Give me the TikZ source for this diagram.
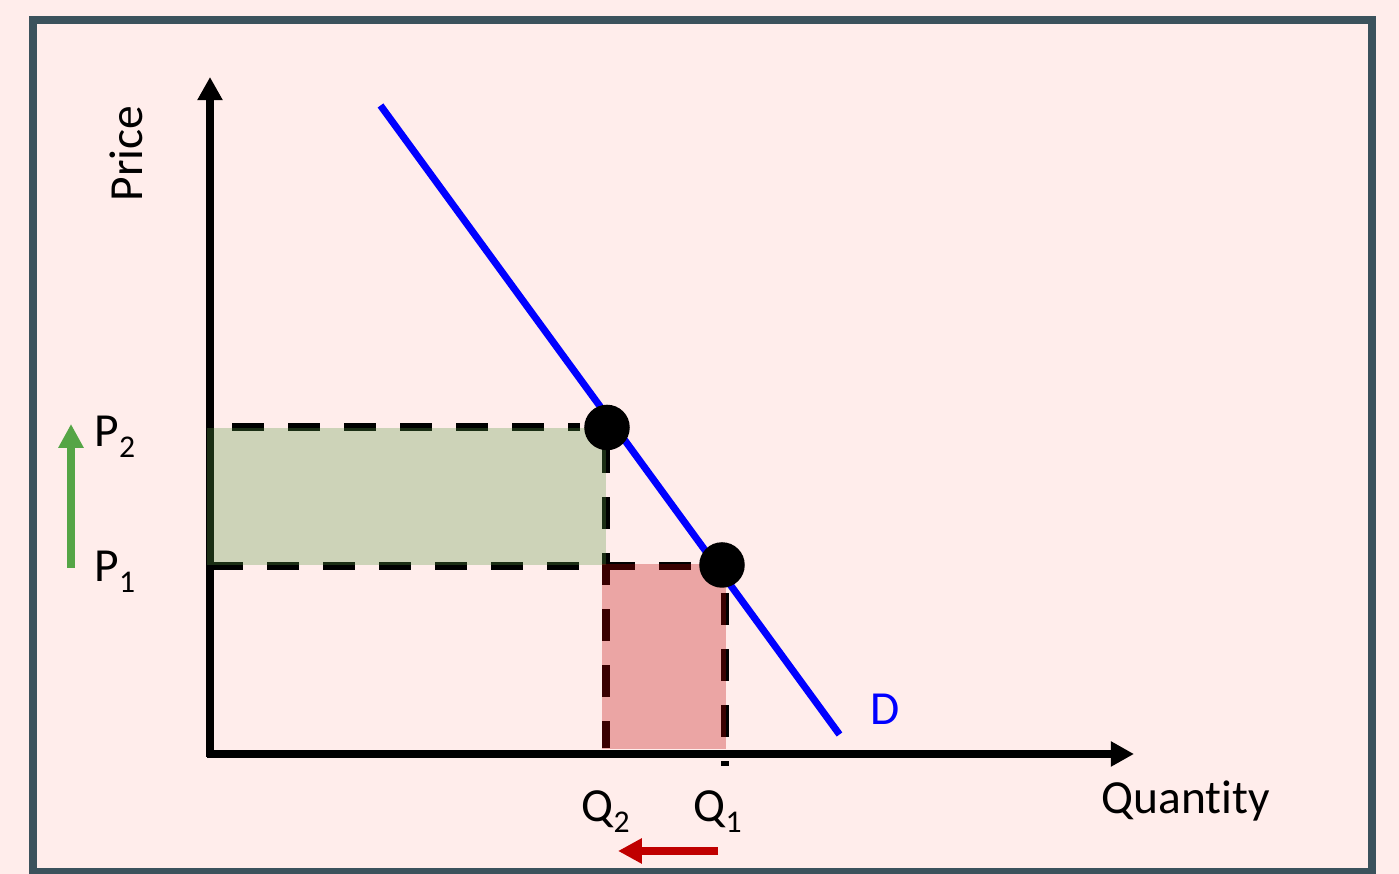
\documentclass[tikz,border=0pt]{standalone}
\usepackage{fontspec}
\setmainfont{Carlito}[Ligatures=CommonOff]
\usetikzlibrary{arrows.meta}

\definecolor{bgpink}{RGB}{255,237,235}
\definecolor{framegray}{RGB}{59,82,92}
\definecolor{risegreen}{RGB}{85,165,70}
\definecolor{gainfill}{RGB}{90,153,67}
\definecolor{lossred}{RGB}{192,0,0}

\newcommand{\sublbl}[2]{%
  % Letter with a lowered index: #1=letter, #2=index
  #1\raisebox{-3.1pt}{\fontsize{9}{9}\selectfont #2}%
}

\tikzset{
  axisline/.style={line width=2pt, -{Triangle[width=6.8pt, length=6.6pt]}},
  guideline/.style={line width=2.1pt, line cap=butt, dash pattern=on 9.1pt off 6.83pt},
  shiftarrow/.style={line width=2.3pt, -{Triangle[width=6.8pt, length=6.8pt]}},
  eqpoint/.style={circle, fill=black, inner sep=0pt, minimum size=0.455cm},
  lbl/.style={font=\fontsize{13.5}{16}\selectfont, inner sep=0pt, anchor=base west}
}

\begin{document}
\begin{tikzpicture}[x=0.01cm, y=-0.01cm]

% ================================================================
% Canvas and frame (coordinates in pixels, y downwards)
% ================================================================
\useasboundingbox (0,0) rectangle (1399,874);
\fill[bgpink] (0,0) rectangle (1399,874);
\draw[framegray, line width=2.3pt] (33,20) rectangle (1372,872);

% ================================================================
% Axes
% ================================================================
\coordinate (origin) at (210,754);
\draw[axisline] (210,757) -- (210,77);
\draw[axisline] (207,754) -- (1134,754);
\node[lbl, rotate=90] (price) at (143,202) {Price};
\node[lbl] (quantity) at (1101,814) {Quantity};

% ================================================================
% Guide lines: P2 / Q2 and P1 / Q1
% ================================================================
\draw[guideline] (232,427) -- (580,427);
\draw[guideline] (606,441) -- (606,748);
\draw[guideline] (211,566) -- (700,566);
\draw[guideline] (725,593) -- (725,766);

% ================================================================
% Revenue areas: gained (green) and lost (red)
% ================================================================
\fill[gainfill, fill opacity=0.3] (207,428) rectangle (606,565);
\fill[lossred, fill opacity=0.3] (602,564) rectangle (726,749);

% ================================================================
% Demand curve and equilibrium points
% ================================================================
\coordinate (dtop) at (380.5,105.5);
\coordinate (dbot) at (839.5,734.5);
\draw[blue, line width=2pt] (dtop) -- (dbot);
\node[lbl, blue] (dlbl) at (870,725) {D};
\node[eqpoint] (pt2) at (607,427.5) {};
\node[eqpoint] (pt1) at (722,565) {};

% ================================================================
% Price and quantity labels
% ================================================================
\node[lbl] (p2) at (94,447) {\sublbl{P}{2}};
\node[lbl] (p1) at (94,582) {\sublbl{P}{1}};
\node[lbl] (q2) at (581,822) {\sublbl{Q}{2}};
\node[lbl] (q1) at (693,822) {\sublbl{Q}{1}};

% ================================================================
% Direction of change
% ================================================================
\draw[shiftarrow, risegreen] (71,568) -- (71,424);
\draw[shiftarrow, lossred] (718,851) -- (618,851);

\end{tikzpicture}
\end{document}
